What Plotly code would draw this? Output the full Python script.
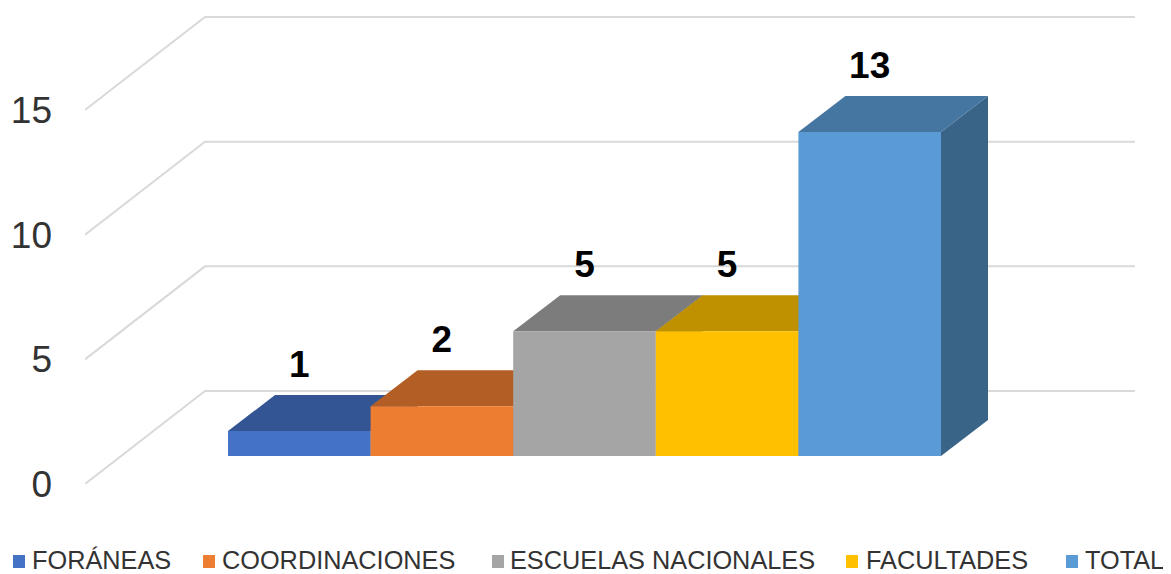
import plotly.graph_objects as go

categories = ['FORÁNEAS', 'COORDINACIONES', 'ESCUELAS NACIONALES', 'FACULTADES', 'TOTAL']
values     = [1, 2, 5, 5, 13]
y_ticks    = [0, 5, 10, 15]

#Face colours: front, top, side
front_colors = ['#4472C4', '#ED7D31', '#A5A5A5', '#FFC000', '#5B9BD5']
top_colors   = ['#335593', '#B25E25', '#7C7C7C', '#BF9000', '#4576A2']
side_colors  = ['#2A4A80', '#9A5020', '#6A6A6A', '#A67C00', '#396387']

#The page body has an 8px margin, so the figure starts at (8,8) in the window
PAGE = 8
W, H = 1171 - PAGE, 574 - PAGE
L, R, T, B = 85 - PAGE, 36, 0, 90

#Axis scales: pixels per bar and per unit of value
px_x = 142.6
px_y = 24.93
x_min = -(299.3 - 85) / px_x
x_max = x_min + (W - L - R) / px_x
y_max = (H - B - T) / px_y

#Fake 3D offsets, in axis units
wall_dx, wall_dy = 120 / px_x, 93 / px_y
bar_dx,  bar_dy  = 47 / px_x, 36 / px_y
floor = 28 / px_y
label_gap = 9 / px_y

grid_style = dict(color='#D9D9D9', width=2)

def poly(*pts):
	return 'M' + 'L'.join(f'{x},{y}' for x, y in pts) + 'Z'

def face(pts, color):
	return dict(type='path', path=poly(*pts), xref='x', yref='y', layer='below',
		fillcolor=color, line=dict(width=0))

#Window pixels to paper coordinates
def paper_x(px):
	return (px - PAGE - L) / (W - L - R)

def paper_y(py):
	return (H - B - (py - PAGE)) / (H - B - T)

shapes = []

#Walls: diagonal from the front edge, then along the back
for v in y_ticks:
	shapes.append(dict(type='path', xref='x', yref='y', layer='below', line=grid_style,
		path=f'M{x_min},{v}L{x_min+wall_dx},{v+wall_dy}L{x_max},{v+wall_dy}'))

#Side and top faces, back to front; the bars themselves cover what is hidden
for i, v in enumerate(values):
	x0, x1 = i - .5, i + .5
	y1 = floor + v
	shapes.append(face([(x1, floor), (x1 + bar_dx, floor + bar_dy),
		(x1 + bar_dx, y1 + bar_dy), (x1, y1)], side_colors[i]))
	shapes.append(face([(x0, y1), (x0 + bar_dx, y1 + bar_dy),
		(x1 + bar_dx, y1 + bar_dy), (x1, y1)], top_colors[i]))

fig = go.Figure()

for i, v in enumerate(values):
	fig.add_trace(go.Bar(x=[i], y=[v], base=floor, width=1, name=categories[i],
		marker=dict(color=front_colors[i], line_width=0), showlegend=False))

#Data labels above the back edge of each bar
fig.add_trace(go.Scatter(
	x=list(range(len(values))),
	y=[floor + v + bar_dy + label_gap for v in values],
	text=[str(v) for v in values],
	mode='text', textposition='top center', showlegend=False, hoverinfo='skip',
	textfont=dict(family='Liberation Sans', size=37, color='#000000', weight='bold')))

#Legend drawn by hand so the entries sit where they do in the original
legend_sq  = [13, 203, 492, 846, 1066]
legend_txt = [30, 220, 508, 864, 1083]
annotations = []
for i, name in enumerate(categories):
	shapes.append(dict(type='rect', xref='paper', yref='paper',
		x0=paper_x(legend_sq[i]), x1=paper_x(legend_sq[i] + 12),
		y0=paper_y(568), y1=paper_y(555),
		fillcolor=front_colors[i], line=dict(width=0)))
	annotations.append(dict(text=name, xref='paper', yref='paper', showarrow=False,
		x=paper_x(legend_txt[i]), y=paper_y(560), xanchor='left', yanchor='middle',
		font=dict(family='Liberation Sans', size=25.3, color='#333333')))

fig.update_layout(
	width=W, height=H,
	margin=dict(l=L, r=R, t=T, b=B, pad=0),
	paper_bgcolor='white', plot_bgcolor='white',
	showlegend=False,
	shapes=shapes, annotations=annotations,
	xaxis=dict(range=[x_min, x_max], visible=False),
	yaxis=dict(range=[0, y_max], tickvals=y_ticks, showgrid=False, zeroline=False,
		showline=False, ticks='', ticklabelstandoff=32,
		tickfont=dict(family='Liberation Sans', size=37, color='#333333')),
)

fig.write_html('out.html')
